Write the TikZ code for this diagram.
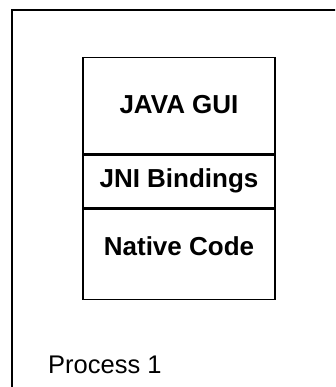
\documentclass[tikz,border=0pt]{standalone}
\usepackage{fontspec}
\setmainfont{Liberation Sans}
\begin{document}
\begin{tikzpicture}[x=1pt,y=-1pt,
  layer/.style={draw=black,line width=1.4pt,minimum width=192pt,inner sep=0pt,anchor=north},
  layertext/.style={inner sep=0pt,anchor=base,font=\fontsize{26}{30}\selectfont\bfseries},
  proc/.style={draw=black,line width=1.6pt}]
\useasboundingbox (0,0) rectangle (335,387);
\clip (0,0) rectangle (335,387);
\fill[white] (0,0) rectangle (335,387);
\draw[proc] (12,10) rectangle (345,400);
\node[layer,minimum height=96pt] (gui) at (179,57) {};
\node[layer,minimum height=53pt] (jni) at (gui.south) {};
\node[layer,minimum height=90pt] (native) at (jni.south) {};
\node[layertext] (guit) at (179,114) {JAVA GUI};
\node[layertext] (jnit) at (179,187) {JNI Bindings};
\node[layertext] (nativet) at (179,255) {Native Code};
\node[anchor=base west,inner sep=0pt,font=\fontsize{25.5}{30}\selectfont] (plabel) at (48,373) {Process 1};
\end{tikzpicture}
\end{document}
